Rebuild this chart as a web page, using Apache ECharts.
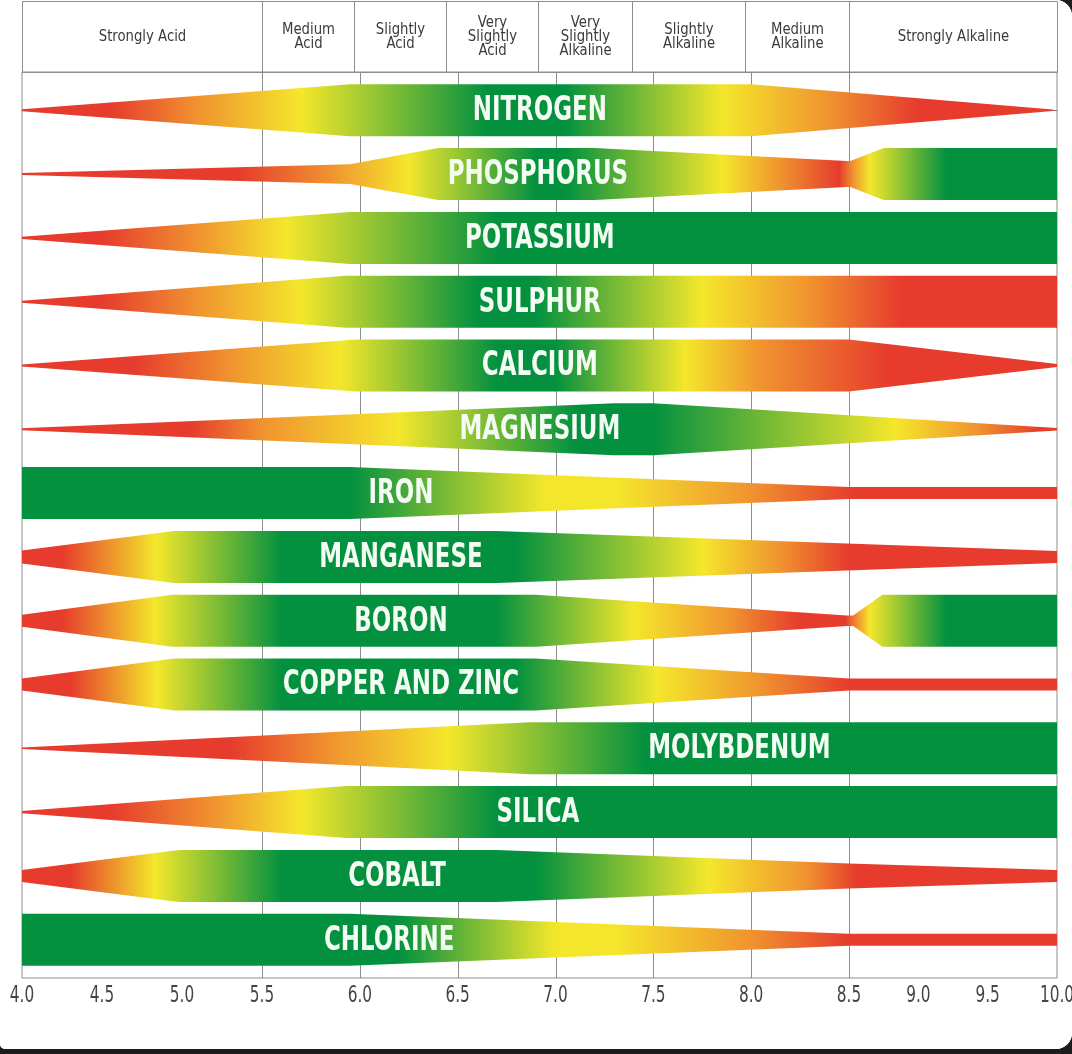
<!DOCTYPE html>
<html><head><meta charset="utf-8">
<script src="https://cdn.jsdelivr.net/npm/echarts@6/dist/echarts.min.js"></script>
<style>
html,body{margin:0;padding:0;background:#1c1c1c;}
#c{width:1072px;height:1049px;border-radius:0 16px 16px 5px;overflow:hidden;background:#fff;}
</style>
</head><body><div id="c"></div>
<script>
// ---------- DATA ----------
const nutrients = ['NITROGEN','PHOSPHORUS','POTASSIUM','SULPHUR','CALCIUM','MAGNESIUM','IRON','MANGANESE','BORON','COPPER AND ZINC','MOLYBDENUM','SILICA','COBALT','CHLORINE'];
const labelPH = [6.92, 6.91, 6.92, 6.92, 6.92, 6.92, 6.21, 6.21, 6.21, 6.21, 7.94, 6.91, 6.19, 6.15];
const phTicks = [4.0, 4.5, 5.0, 5.5, 6.0, 6.5, 7.0, 7.5, 8.0, 8.5, 9.0, 9.5, 10.0];
const gridPH = [5.5, 6.0, 6.5, 7.0, 7.5, 8.0, 8.5];
const headerLabels = ['Strongly Acid', 'Medium\nAcid', 'Slightly\nAcid', 'Very\nSlightly\nAcid', 'Very\nSlightly\nAlkaline', 'Slightly\nAlkaline', 'Medium\nAlkaline', 'Strongly Alkaline'];
const headerBounds = [4.0, 5.5, 5.97, 6.44, 6.91, 7.39, 7.97, 8.5, 10.0];

// band thickness profiles: [pH, fraction of full thickness]
const nitrogenShape   = [[4.0,0.04],[5.95,1],[8.0,1],[9.97,0.03]];
const phosphorusShape = [[4.0,0.04],[5.95,0.38],[6.4,1],[7.2,1],[8.49,0.5],[8.51,0.5],[8.75,1],[10,1]];
const potassiumShape  = [[4.0,0.04],[5.95,1],[10,1]];
const sulphurShape    = [[4.0,0.04],[5.93,1],[10,1]];
const calciumShape    = [[4.0,0.04],[5.98,1],[8.5,1],[10,0.06]];
const magnesiumShape  = [[4.0,0.04],[7.3,1],[7.5,1],[10,0.05]];
const ironShape       = [[4.0,1],[5.95,1],[8.5,0.23],[10,0.23]];
const manganeseShape  = [[4.0,0.25],[4.95,1],[6.7,1],[10,0.23]];
const boronShape      = [[4.0,0.23],[4.94,1],[6.9,1],[8.49,0.2],[8.53,0.2],[8.74,1],[10,1]];
const copperZincShape = [[4.0,0.23],[4.95,1],[6.9,1],[8.5,0.23],[10,0.23]];
const molybdenumShape = [[4.0,0.03],[6.87,1],[10,1]];
const silicaShape     = [[4.0,0.04],[5.93,1],[10,1]];
const cobaltShape     = [[4.0,0.23],[4.98,1],[6.7,1],[8.5,0.48],[10,0.23]];
const chlorineShape   = [[4.0,1],[5.95,1],[8.5,0.23],[10,0.23]];

// colour stops along pH: R red, O orange, Y yellow, G green
const nitrogenColors   = [[4.0,'R'],[4.55,'R'],[5.1,'O'],[5.7,'Y'],[6.65,'G'],[7.05,'G'],[7.85,'Y'],[8.4,'O'],[9.0,'R'],[10,'R']];
const phosphorusColors = [[4.0,'R'],[5.35,'R'],[5.85,'O'],[6.25,'Y'],[6.9,'G'],[7.05,'G'],[7.85,'Y'],[8.15,'O'],[8.45,'R'],[8.53,'O'],[8.65,'Y'],[9.2,'G'],[10,'G']];
const potassiumColors  = [[4.0,'R'],[4.5,'R'],[5.1,'O'],[5.62,'Y'],[6.7,'G'],[10,'G']];
const sulphurColors    = [[4.0,'R'],[4.5,'R'],[5.1,'O'],[5.7,'Y'],[6.6,'G'],[6.9,'G'],[7.75,'Y'],[8.3,'O'],[8.88,'R'],[10,'R']];
const calciumColors    = [[4.0,'R'],[4.7,'R'],[5.3,'O'],[5.9,'Y'],[6.7,'G'],[7.0,'G'],[7.66,'Y'],[8.05,'O'],[8.8,'R'],[10,'R']];
const magnesiumColors  = [[4.0,'R'],[5.05,'R'],[5.5,'O'],[6.2,'Y'],[7.1,'G'],[7.5,'G'],[8.83,'Y'],[9.43,'O'],[9.88,'R'],[10,'R']];
const ironColors       = [[4.0,'G'],[5.95,'G'],[6.95,'Y'],[7.3,'Y'],[8.0,'O'],[8.55,'R'],[10,'R']];
const manganeseColors  = [[4.0,'R'],[4.25,'R'],[4.84,'Y'],[5.6,'G'],[6.8,'G'],[7.75,'Y'],[8.15,'O'],[8.5,'R'],[10,'R']];
const boronColors      = [[4.0,'R'],[4.25,'R'],[4.83,'Y'],[5.6,'G'],[6.7,'G'],[7.4,'Y'],[7.9,'O'],[8.25,'R'],[8.48,'R'],[8.56,'O'],[8.65,'Y'],[9.2,'G'],[10,'G']];
const copperZincColors = [[4.0,'R'],[4.3,'R'],[4.84,'Y'],[5.6,'G'],[6.8,'G'],[7.52,'Y'],[8.05,'O'],[8.5,'R'],[10,'R']];
const molybdenumColors = [[4.0,'R'],[5.3,'R'],[5.85,'O'],[6.45,'Y'],[7.45,'G'],[10,'G']];
const silicaColors     = [[4.0,'R'],[4.55,'R'],[5.2,'O'],[5.7,'Y'],[6.7,'G'],[10,'G']];
const cobaltColors     = [[4.0,'R'],[4.3,'R'],[4.83,'Y'],[5.6,'G'],[6.9,'G'],[7.78,'Y'],[8.28,'O'],[8.56,'R'],[10,'R']];
const chlorineColors   = [[4.0,'G'],[6.2,'G'],[7.0,'Y'],[7.3,'Y'],[8.0,'O'],[8.5,'R'],[10,'R']];

const shapes = [nitrogenShape, phosphorusShape, potassiumShape, sulphurShape, calciumShape, magnesiumShape, ironShape, manganeseShape, boronShape, copperZincShape, molybdenumShape, silicaShape, cobaltShape, chlorineShape];
const colorStops = [nitrogenColors, phosphorusColors, potassiumColors, sulphurColors, calciumColors, magnesiumColors, ironColors, manganeseColors, boronColors, copperZincColors, molybdenumColors, silicaColors, cobaltColors, chlorineColors];

// ---------- STYLE / SCALE ----------
const PAL = {R:'#e63b2d', O:'#f0932f', Y:'#f4e72b', G:'#04913f'};
const BAND = 0.815; // band thickness in row units
// non-uniform pH axis: piecewise-linear scale segments
const phKnots = [4.0, 5.5, 8.5, 10.0];
const axisKnots = [0, 240, 827, 1035];
function toAxis(ph) {
  for (let k = 0; k < phKnots.length - 1; k++) {
    if (ph <= phKnots[k+1] || k === phKnots.length - 2) {
      const t = (ph - phKnots[k]) / (phKnots[k+1] - phKnots[k]);
      return axisKnots[k] + t * (axisKnots[k+1] - axisKnots[k]);
    }
  }
}
const FONT = '"Liberation Sans Narrow", "Arial Narrow", "DejaVu Sans Condensed", sans-serif';

const chart = echarts.init(document.getElementById('c'), null, {renderer: 'canvas'});

function renderBand(params, api) {
  const i = params.dataIndex;
  const yc = api.coord([0, i])[1];
  const half = api.size([0, 1])[1] * BAND / 2;
  const top = [], bot = [];
  shapes[i].forEach(([ph, t]) => {
    const x = api.coord([toAxis(ph), i])[0];
    top.push([x, yc - half * t]);
    bot.push([x, yc + half * t]);
  });
  const pts = top.concat(bot.reverse());
  const x0 = api.coord([toAxis(4.0), i])[0];
  const x1 = api.coord([toAxis(10.0), i])[0];
  const span = toAxis(10.0) - toAxis(4.0);
  const stops = colorStops[i].map(([ph, k]) => ({offset: (toAxis(ph) - toAxis(4.0)) / span, color: PAL[k]}));
  return {
    type: 'group',
    children: [
      {type: 'polygon', shape: {points: pts}, style: {fill: new echarts.graphic.LinearGradient(x0, 0, x1, 0, stops, true)}},
      {type: 'text', x: api.coord([toAxis(labelPH[i]), i])[0], y: yc + 1, scaleX: 0.75,
       style: {text: nutrients[i], fill: '#f3fbf3', font: 'bold 34px ' + FONT, align: 'center', verticalAlign: 'middle'}}
    ]
  };
}

function renderGridLine(params, api) {
  const ph = gridPH[params.dataIndex];
  const x = Math.round(api.coord([toAxis(ph), 0])[0]) + 0.5;
  const yTop = api.coord([0, -0.6])[1];
  const yBot = api.coord([0, 13.6])[1];
  return {type: 'line', shape: {x1: x, y1: yTop, x2: x, y2: yBot}, style: {stroke: '#8d8d8d', lineWidth: 1}};
}

function renderTickLabel(params, api) {
  const ph = phTicks[params.dataIndex];
  const x = api.coord([toAxis(ph), 0])[0];
  const y = api.coord([0, 13.6])[1];
  return {type: 'text', x: x, y: y + 18, scaleX: 0.74,
          style: {text: ph.toFixed(1), fill: '#444', font: '23px ' + FONT, align: 'center', verticalAlign: 'middle'}};
}

function renderHeader(params, api) {
  const i = params.dataIndex;
  const xa = Math.round(api.coord([toAxis(headerBounds[i]), 1])[0]) + 0.5;
  const xb = Math.round(api.coord([toAxis(headerBounds[i+1]), 1])[0]) + 0.5;
  const yt = Math.round(api.coord([0, 1])[1]) + 0.5;
  const yb = Math.round(api.coord([0, 0])[1]) + 0.5;
  return {
    type: 'group',
    children: [
      {type: 'rect', shape: {x: xa, y: yt, width: xb - xa, height: yb - yt}, style: {fill: 'transparent', stroke: '#8d8d8d', lineWidth: 1}},
      {type: 'text', x: (xa + xb) / 2, y: (yt + yb) / 2, scaleX: 0.92,
       style: {text: headerLabels[i], fill: '#3a3a3a', font: '16px ' + FONT, lineHeight: 14, align: 'center', verticalAlign: 'middle'}}
    ]
  };
}

chart.setOption({
  animation: false,
  backgroundColor: '#ffffff',
  grid: [
    {left: 22, right: 15, top: 72, bottom: 71, show: true, borderColor: '#8d8d8d', borderWidth: 1, backgroundColor: 'transparent', containLabel: false, outerBoundsMode: 'none'},
    {left: 22, right: 15, top: 1, height: 71, show: false, containLabel: false, outerBoundsMode: 'none'}
  ],
  xAxis: [
    {type: 'value', gridIndex: 0, min: axisKnots[0], max: axisKnots[axisKnots.length-1],
     splitLine: {show: false}, axisTick: {show: false}, axisLabel: {show: false},
     axisLine: {show: true, lineStyle: {color: '#7a7a7a', width: 1}}},
    {type: 'value', gridIndex: 1, min: axisKnots[0], max: axisKnots[axisKnots.length-1], show: false}
  ],
  yAxis: [
    {type: 'value', gridIndex: 0, inverse: true, min: -0.6, max: 13.6, show: false},
    {type: 'value', gridIndex: 1, min: 0, max: 1, show: false}
  ],
  series: [
    {type: 'custom', xAxisIndex: 0, yAxisIndex: 0, z: 1, renderItem: renderGridLine, data: gridPH.map((p, i) => [i]), silent: true},
    {type: 'custom', xAxisIndex: 0, yAxisIndex: 0, z: 3, renderItem: renderBand, data: nutrients.map((n, i) => [i]), silent: true},
    {type: 'custom', xAxisIndex: 0, yAxisIndex: 0, z: 3, renderItem: renderTickLabel, data: phTicks.map((p, i) => [i]), silent: true, clip: false},
    {type: 'custom', xAxisIndex: 1, yAxisIndex: 1, z: 3, renderItem: renderHeader, data: headerLabels.map((h, i) => [i]), silent: true}
  ]
});
</script>
</body></html>
